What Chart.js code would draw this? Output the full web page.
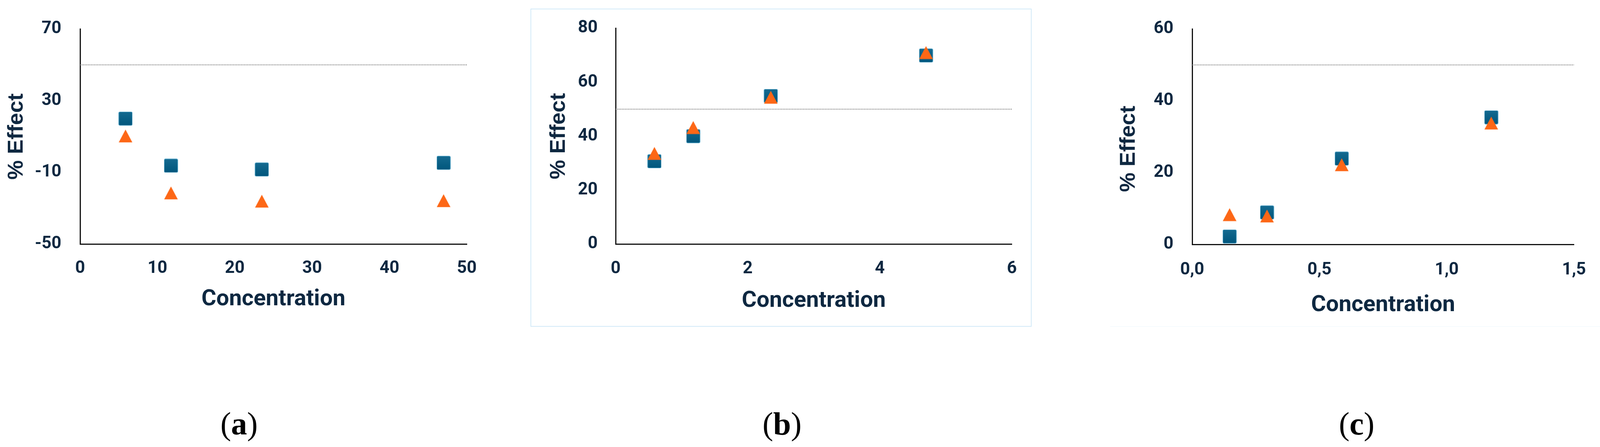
<!DOCTYPE html>
<html>
<head>
<meta charset="utf-8">
<script src="https://cdn.jsdelivr.net/npm/chart.js@4.4.1/dist/chart.umd.min.js"></script>
<style>
  html, body { margin: 0; padding: 0; background: #fff; }
  body { width: 4100px; height: 1145px; position: relative; overflow: hidden; }
  .panel { position: absolute; }
  .frame { position: absolute; left: 1358px; top: 22px; width: 1279px; height: 811px; border: 2px solid #d3eaf8; }
  .faint { position: absolute; left: 2842px; top: 836px; width: 1258px; height: 0; border-top: 1px solid #eef6fc; }
  .caption { position: absolute; top: 1041px; width: 200px; margin-left: -100px; text-align: center;
             font-family: "Liberation Serif", "Times New Roman", serif; font-size: 82px; line-height: 90px; color: #000; }
</style>
</head>
<body>
<div class="frame"></div>
<div class="faint"></div>
<div class="panel" style="left:0px;top:0px"><canvas id="chartA" width="1300" height="802"></canvas></div>
<div class="panel" style="left:1358px;top:0px"><canvas id="chartB" width="1283" height="806"></canvas></div>
<div class="panel" style="left:2700px;top:0px"><canvas id="chartC" width="1400" height="817"></canvas></div>
<div class="caption" style="left:612px">(<b>a</b>)</div>
<div class="caption" style="left:2002px">(<b>b</b>)</div>
<div class="caption" style="left:3473px">(<b>c</b>)</div>

<script>
// values
const concA = [5.875, 11.75, 23.5, 47]
const squaresA = [20.0, -6.3, -8.4, -4.7]
const trianglesA = [10.3, -21.5, -26.1, -25.8]

const concB = [0.5875, 1.175, 2.35, 4.7]
const squaresB = [30.7, 40.0, 54.9, 69.9]
const trianglesB = [33.6, 43.2, 54.4, 71.0]

const concC = [0.147, 0.294, 0.5875, 1.175]
const squaresC = [2.2, 8.9, 23.9, 35.4]
const trianglesC = [8.3, 7.9, 22.2, 33.8]

const threshold = 50

const xTicksA = [0, 10, 20, 30, 40, 50]
const yTicksA = [-50, -10, 30, 70]
const xTicksB = [0, 2, 4, 6]
const yTicksB = [0, 20, 40, 60, 80]
const xTicksC = [0, 0.5, 1, 1.5]
const xLabelsC = ["0,0", "0,5", "1,0", "1,5"]
const yTicksC = [0, 20, 40, 60]

const textColor = "#0e2841"
Chart.defaults.font.family = "Roboto, 'Liberation Sans', sans-serif"

// marker images, drawn centred on each point by Chart.js
function squareMarker() {
  const c = document.createElement("canvas")
  c.width = 36
  c.height = 36
  const g = c.getContext("2d")
  const grad = g.createLinearGradient(0, 0, 0, 36)
  grad.addColorStop(0, "#156a90")
  grad.addColorStop(1, "#00567c")
  g.fillStyle = grad
  g.beginPath()
  g.roundRect(0.75, 0.75, 34.5, 34.5, 3)
  g.fill()
  g.strokeStyle = "rgba(70, 165, 205, 0.6)"
  g.lineWidth = 1.5
  g.stroke()
  return c
}

function triangleMarker() {
  const c = document.createElement("canvas")
  c.width = 36
  c.height = 34
  const g = c.getContext("2d")
  g.fillStyle = "#fd6716"
  g.beginPath()
  g.moveTo(18, 0.5)
  g.lineTo(35.5, 33.5)
  g.lineTo(0.5, 33.5)
  g.closePath()
  g.fill()
  return c
}

const sqImg = squareMarker()
const triImg = triangleMarker()

function toPoints(xs, ys) {
  return xs.map((x, i) => ({ x: x, y: ys[i] }))
}

function makePanel(p) {
  const ctx = document.getElementById(p.id).getContext("2d")
  const xMin = p.xTicks[0], xMax = p.xTicks[p.xTicks.length - 1]
  const yMin = p.yTicks[0], yMax = p.yTicks[p.yTicks.length - 1]

  return new Chart(ctx, {
    type: "scatter",
    data: {
      datasets: [
        {
          data: toPoints(p.conc, p.triangles),
          pointStyle: triImg,
        },
        {
          data: toPoints(p.conc, p.squares),
          pointStyle: sqImg,
        },
        {
          type: "line",
          data: [{ x: xMin, y: threshold }, { x: xMax, y: threshold }],
          borderColor: "#666",
          borderWidth: 2,
          borderDash: [2, 2],
          borderCapStyle: "butt",
          pointRadius: 0,
          fill: false,
        },
      ],
    },
    options: {
      responsive: false,
      animation: false,
      events: [],
      layout: { padding: { top: p.padTop, right: p.padRight, left: 0, bottom: 0 } },
      plugins: { legend: { display: false }, tooltip: { enabled: false } },
      scales: {
        x: {
          type: "linear",
          min: xMin,
          max: xMax,
          afterBuildTicks: (s) => { s.ticks = p.xTicks.map((v) => ({ value: v })) },
          afterFit: (s) => { s.height = p.xHeight },
          grid: { display: false, drawTicks: false },
          border: { display: true, color: "#111", width: 3 },
          ticks: {
            color: textColor,
            font: { size: 44, weight: "bold" },
            padding: p.xPad,
            maxRotation: 0,
            autoSkip: false,
            callback: (v) => {
              const i = p.xTicks.indexOf(v)
              return p.xLabels ? p.xLabels[i] : String(v)
            },
          },
          title: {
            display: true,
            text: "Concentration",
            color: textColor,
            font: { size: 58, weight: "bold" },
            padding: { top: 0, bottom: 0 },
          },
        },
        y: {
          type: "linear",
          min: yMin,
          max: yMax,
          afterBuildTicks: (s) => { s.ticks = p.yTicks.map((v) => ({ value: v })) },
          afterFit: (s) => { s.width = p.yWidth },
          grid: { display: false, drawTicks: false },
          border: { display: true, color: "#111", width: 3 },
          ticks: {
            color: textColor,
            font: { size: 44, weight: "bold" },
            padding: p.yPad,
            autoSkip: false,
          },
          title: {
            display: true,
            text: p.yTitle,
            color: textColor,
            font: { family: "'Liberation Sans', Arial, sans-serif", size: 56, weight: "bold" },
            padding: { top: p.yTitlePad, bottom: 0 },
          },
        },
      },
    },
  })
}

makePanel({
  id: "chartA", conc: concA, squares: squaresA, triangles: trianglesA,
  xTicks: xTicksA, yTicks: yTicksA, yTitle: "% Effect",
  padTop: 65, padRight: 105, yWidth: 205, xHeight: 177, xPad: 37, yPad: 48, yTitlePad: 9,
})

makePanel({
  id: "chartB", conc: concB, squares: squaresB, triangles: trianglesB,
  xTicks: xTicksB, yTicks: yTicksB, yTitle: "% Effect",
  padTop: 65, padRight: 42, yWidth: 218, xHeight: 181, xPad: 38, yPad: 46, yTitlePad: 39,
})

makePanel({
  id: "chartC", conc: concC, squares: squaresC, triangles: trianglesC,
  xTicks: xTicksC, xLabels: xLabelsC, yTicks: yTicksC, yTitle: "% Effect    ",
  padTop: 67, padRight: 49, yWidth: 352, xHeight: 191, xPad: 40, yPad: 48, yTitlePad: 156,
})
</script>
</body>
</html>
